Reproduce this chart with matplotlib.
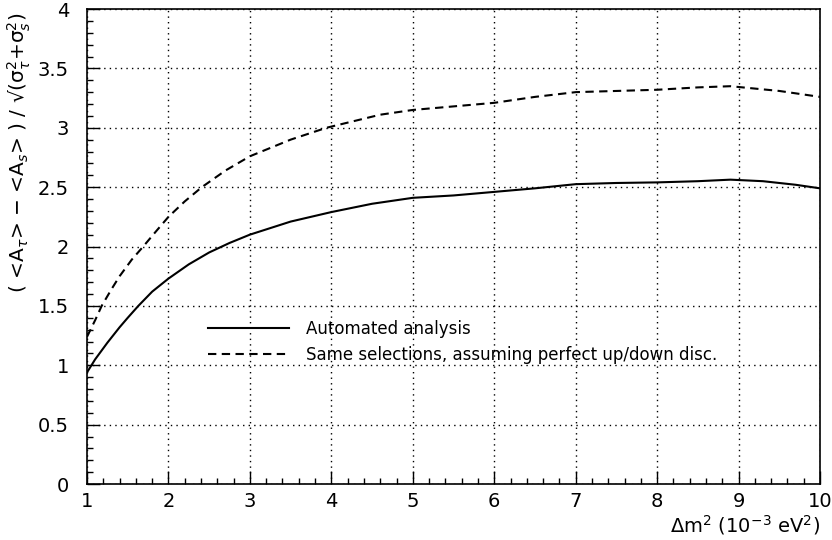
import numpy as np
import matplotlib.pyplot as plt
from matplotlib.ticker import MultipleLocator, FormatStrFormatter

plt.rcParams['font.family'] = ['DejaVu Sans']
plt.rcParams['mathtext.fontset'] = 'dejavusans'

# values
dm2_auto = [1.0, 1.1, 1.25, 1.4, 1.5, 1.63, 1.8, 2.0, 2.25, 2.5, 2.75, 3.0, 3.5, 4.0,
            4.5, 5.0, 5.5, 6.0, 6.5, 7.0, 7.5, 8.0, 8.5, 8.9, 9.3, 9.7, 10.0]
sig_auto = [0.94, 1.05, 1.19, 1.32, 1.40, 1.50, 1.62, 1.73, 1.85, 1.95, 2.03, 2.10, 2.21, 2.29,
            2.36, 2.41, 2.43, 2.46, 2.49, 2.525, 2.535, 2.54, 2.55, 2.563, 2.55, 2.52, 2.49]

dm2_ideal = [1.0, 1.1, 1.18, 1.3, 1.4, 1.55, 1.69, 1.85, 2.0, 2.2, 2.41, 2.7, 3.0, 3.5,
             3.94, 4.3, 4.6, 5.0, 5.5, 6.0, 6.5, 7.0, 7.5, 8.0, 8.5, 8.9, 9.5, 10.0]
sig_ideal = [1.24, 1.38, 1.50, 1.64, 1.75, 1.89, 2.00, 2.13, 2.25, 2.38, 2.50, 2.64, 2.76, 2.90,
             3.00, 3.06, 3.11, 3.15, 3.18, 3.21, 3.26, 3.30, 3.31, 3.32, 3.34, 3.35, 3.31, 3.26]

labels = ['Automated analysis', 'Same selections, assuming perfect up/down disc.']

fig = plt.figure(figsize=(8.32, 5.4), dpi=100)
ax = fig.add_axes([0.1046, 0.1037, 0.881, 0.8796])

ax.plot(dm2_auto, sig_auto, 'k-', lw=1.5, label=labels[0])
ax.plot(dm2_ideal, sig_ideal, 'k', lw=1.5, dashes=(4, 2.6), label=labels[1])

ax.set_xlim(1, 10)
ax.set_ylim(0, 4)
ax.xaxis.set_major_locator(MultipleLocator(1))
ax.xaxis.set_minor_locator(MultipleLocator(0.2))
ax.yaxis.set_major_locator(MultipleLocator(0.5))
ax.yaxis.set_minor_locator(MultipleLocator(0.1))
ax.xaxis.set_major_formatter(FormatStrFormatter('%g'))
ax.yaxis.set_major_formatter(FormatStrFormatter('%g'))
ax.tick_params(which='both', direction='in', top=False, right=False, labelsize=14)
ax.tick_params(which='major', length=9.5, width=1)
ax.tick_params(which='minor', length=4.5, width=1)
ax.tick_params(axis='x', pad=6)
ax.tick_params(axis='y', pad=13)
ax.grid(True, which='major', color='k', ls=(0, (1, 3)), lw=1)
for s in ax.spines.values():
    s.set_linewidth(1.2)

ax.set_xlabel(r'$\Delta$m$^2$ (10$^{-3}$ eV$^2$)', fontsize=14, loc='right', labelpad=1)
ax.set_ylabel('( <A$_\\tau$> $-$ <A$_s$> ) / \u221a(\u03c3$^2_\\tau$+\u03c3$^2_s$)',
              fontsize=14.5, loc='top')
ax.yaxis.set_label_coords(-0.0737, 0.9937)

ax.legend(frameon=False, loc='upper left', bbox_to_anchor=(0.1555, 0.359), fontsize=12,
          handlelength=4.9, handletextpad=1.0, labelspacing=0.45, borderaxespad=0)

fig.savefig('out.png', dpi=100)
